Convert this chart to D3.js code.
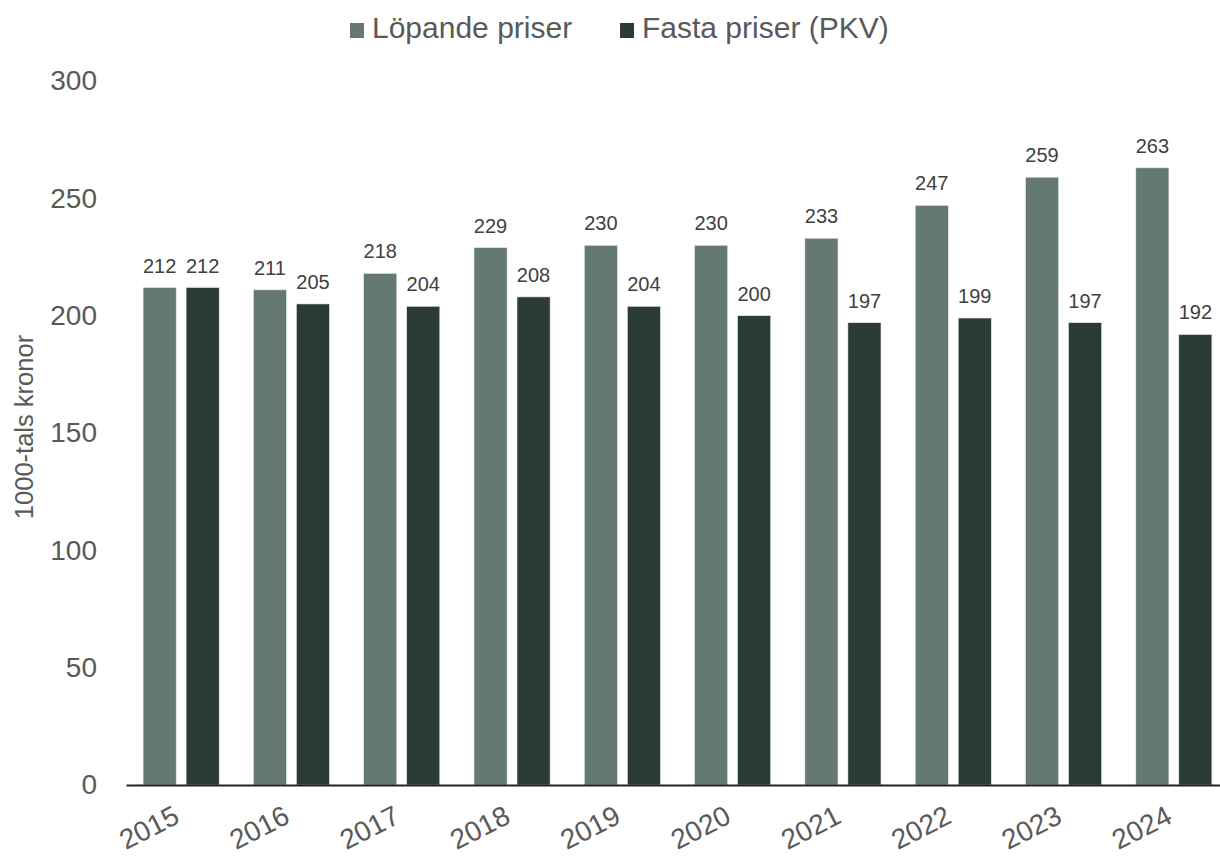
<!DOCTYPE html>
<html>
<head>
<meta charset="utf-8">
<script src="https://cdn.jsdelivr.net/npm/d3@7"></script>
<style>
  body { margin: 0; background: #fff; }
  svg { font-family: "Liberation Sans", Arial, sans-serif; }
</style>
</head>
<body>
<svg id="chart" width="1220" height="859"></svg>
<script>
"use strict";

// data
const years = ["2015", "2016", "2017", "2018", "2019", "2020", "2021", "2022", "2023", "2024"];
const lopande = [212, 211, 218, 229, 230, 230, 233, 247, 259, 263];
const fasta = [212, 205, 204, 208, 204, 200, 197, 199, 197, 192];
const seriesNames = ["Löpande priser", "Fasta priser (PKV)"];
const yTicks = [0, 50, 100, 150, 200, 250, 300];

const colors = ["#647a70", "#2b3b35"];

const svg = d3.select("#chart");
const margin = { top: 81, right: -9, bottom: 74, left: 126 };
const width = 1220 - margin.left - margin.right;
const height = 859 - margin.top - margin.bottom;

const g = svg.append("g")
    .attr("transform", "translate(" + margin.left + "," + margin.top + ")");

const x = d3.scaleBand()
    .domain(years)
    .range([0, width])
    .paddingInner(0.31)
    .paddingOuter(0.155);

const x1 = d3.scaleBand()
    .domain([0, 1])
    .range([0, x.bandwidth()])
    .paddingInner(0.23);

const y = d3.scaleLinear()
    .domain([0, 300])
    .range([height, 0]);

// y axis (labels only)
const yAxis = g.append("g")
    .call(d3.axisLeft(y).tickValues(yTicks).tickSize(0).tickPadding(29));
yAxis.select(".domain").remove();
yAxis.selectAll("text")
    .attr("fill", "#595959")
    .style("font-size", "28px");

// bars
const rows = years.map((yr, i) => ({ year: yr, vals: [lopande[i], fasta[i]] }));

const groups = g.selectAll(".grp")
    .data(rows)
    .join("g")
    .attr("class", "grp")
    .attr("transform", d => "translate(" + x(d.year) + ",0)");

groups.selectAll("rect")
    .data(d => d.vals.map((v, k) => ({ k: k, v: v })))
    .join("rect")
    .attr("x", d => x1(d.k))
    .attr("y", d => y(d.v))
    .attr("width", x1.bandwidth())
    .attr("height", d => height - y(d.v))
    .attr("fill", d => colors[d.k])
    .attr("stroke", "#e6ebe8")
    .attr("stroke-width", 0.6);

groups.selectAll(".lbl")
    .data(d => d.vals.map((v, k) => ({ k: k, v: v })))
    .join("text")
    .attr("class", "lbl")
    .attr("x", d => x1(d.k) + x1.bandwidth() / 2)
    .attr("y", d => y(d.v) - 15)
    .attr("text-anchor", "middle")
    .attr("fill", "#404040")
    .style("font-size", "20px")
    .text(d => d.v);

// x axis
const xAxis = g.append("g")
    .attr("transform", "translate(0," + height + ")")
    .call(d3.axisBottom(x).tickSize(0).tickPadding(0));
xAxis.select(".domain")
    .attr("stroke", "#222")
    .attr("stroke-width", 2);
xAxis.selectAll("text")
    .attr("fill", "#595959")
    .style("font-size", "28px")
    .attr("text-anchor", "end")
    .attr("dy", null)
    .attr("transform", "translate(0,37) rotate(-27)");

// y axis title
svg.append("text")
    .attr("transform", "translate(33,427) rotate(-90)")
    .attr("text-anchor", "middle")
    .attr("fill", "#595959")
    .style("font-size", "25.5px")
    .text("1000-tals kronor");

// legend
const legendX = [350, 620];
const legend = svg.append("g");
seriesNames.forEach((name, i) => {
    legend.append("rect")
        .attr("x", legendX[i])
        .attr("y", 23)
        .attr("width", 14)
        .attr("height", 15)
        .attr("fill", colors[i]);
    legend.append("text")
        .attr("x", legendX[i] + 22)
        .attr("y", 38)
        .attr("fill", "#595959")
        .style("font-size", "30px")
        .text(name);
});
</script>
</body>
</html>
